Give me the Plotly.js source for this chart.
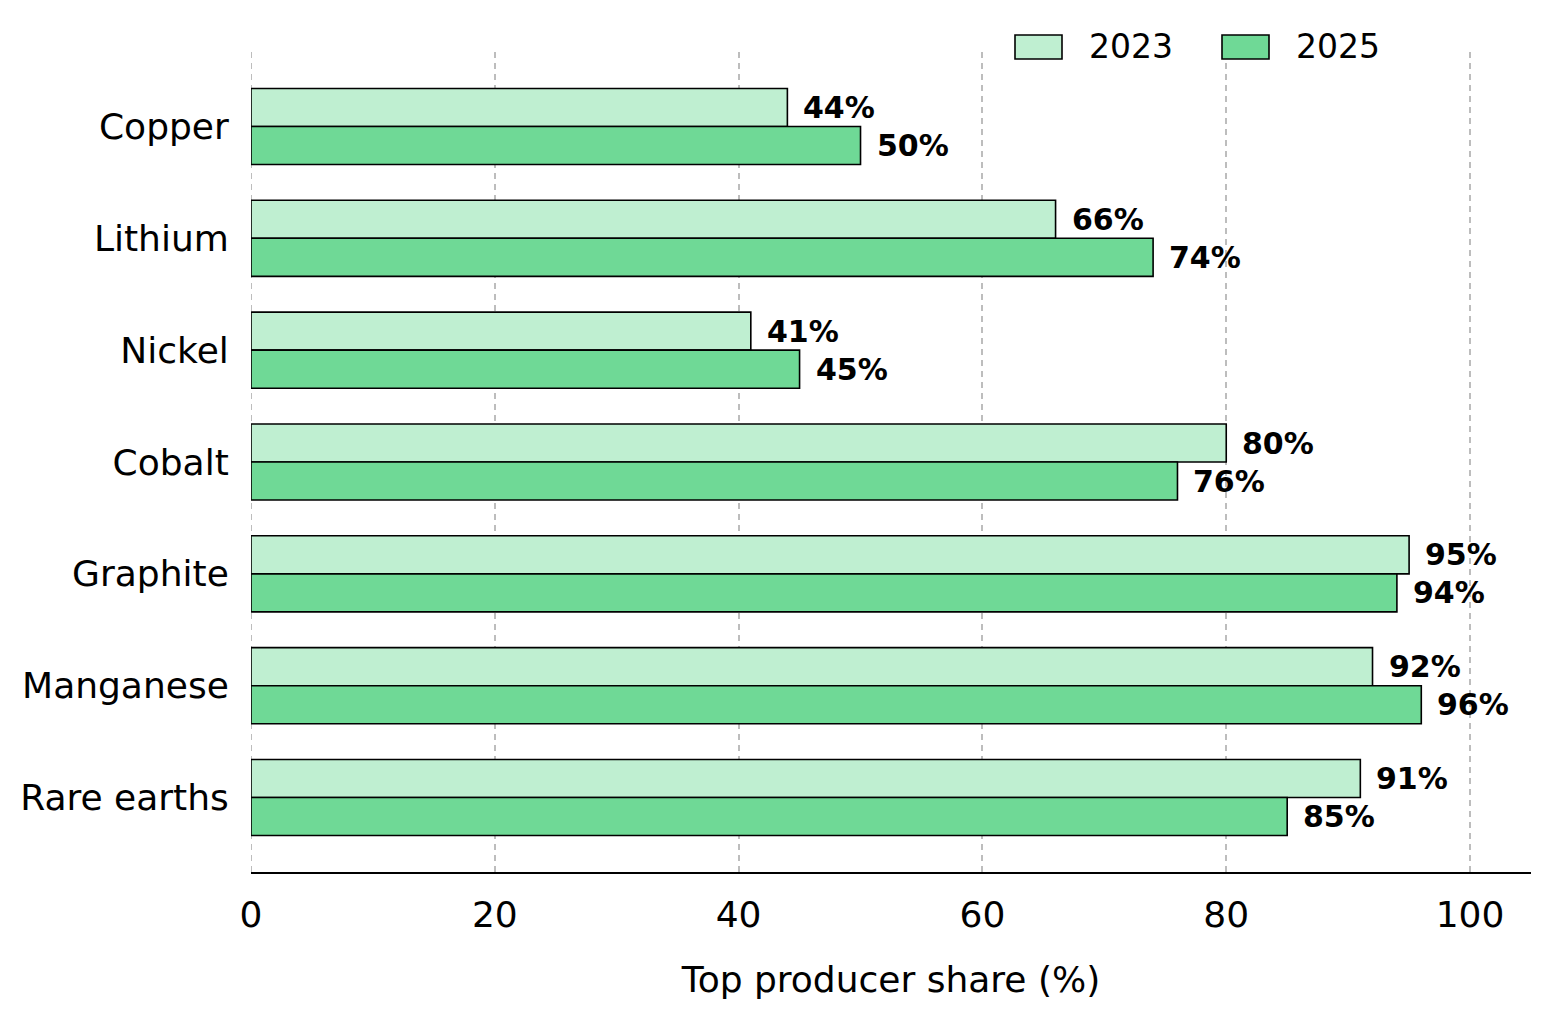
<!DOCTYPE html>
<html>
<head>
<meta charset="utf-8">
<script src="https://cdn.plot.ly/plotly-3.0.1.min.js"></script>
<style>
  html, body { margin: 0; padding: 0; background: #fff; }
  #chart { width: 1551px; height: 1017px; }
</style>
</head>
<body>
<div id="chart"></div>
<script>
// Top producer share by mineral — grouped horizontal bars, 2023 vs 2025.

const minerals = ["Copper", "Lithium", "Nickel", "Cobalt", "Graphite", "Manganese", "Rare earths"];
const years = ["2023", "2025"];
const share2023 = [44, 66, 41, 80, 95, 92, 91];
const share2025 = [50, 74, 45, 76, 94, 96, 85];

(function () {
  const W = 1551, H = 1017;
  const M = { l: 251, r: 20, t: 52, b: 145 };
  const FONT = "DejaVu Sans, Verdana, sans-serif";
  const colors = ["#bfefd1", "#6fd996"];
  const GRID = "#bdbdbd";
  const series = [share2023, share2025];

  const traces = series.map((vals, i) => ({
    type: "bar",
    orientation: "h",
    name: years[i],
    x: vals,
    y: minerals,
    marker: { color: colors[i], line: { color: "#000", width: 1.6 } },
    hoverinfo: "x+y",
    showlegend: false,
  }));

  // value labels beside each bar end
  const annotations = [];
  series.forEach((vals, i) => {
    vals.forEach((v, k) => {
      annotations.push({
        x: v, y: minerals[k], xref: "x", yref: "y",
        text: "<b>" + v + "%</b>", showarrow: false,
        xanchor: "left", yanchor: "middle",
        xshift: 14, yshift: i === 0 ? 19 : -19,
        font: { family: FONT, size: 30, color: "#000" },
      });
    });
  });

  // legend drawn by hand so the patches match the wide rectangles
  const pw = W - M.l - M.r, ph = H - M.t - M.b;
  const px = x => (x - M.l) / pw;
  const py = y => (H - M.b - y) / ph;
  const shapes = [
    // plotly drops the gridline on the plot edge, so draw the one at 0
    { type: "line", xref: "x", yref: "paper", x0: 0, x1: 0, y0: 0, y1: 1,
      layer: "below", line: { color: GRID, width: 2, dash: "6px,5px" } },
  ];
  const legX = [1015, 1222];
  years.forEach((yr, i) => {
    shapes.push({
      type: "rect", xref: "paper", yref: "paper",
      x0: px(legX[i]), x1: px(legX[i] + 47), y0: py(59), y1: py(35),
      fillcolor: colors[i], line: { color: "#000", width: 1.6 },
    });
    annotations.push({
      xref: "paper", yref: "paper", x: px(legX[i] + 72), y: py(47),
      xanchor: "left", yanchor: "middle", showarrow: false,
      text: yr, font: { family: FONT, size: 33, color: "#000" },
    });
  });

  const layout = {
    width: W, height: H,
    margin: M,
    paper_bgcolor: "#fff", plot_bgcolor: "#fff",
    font: { family: FONT, color: "#000", size: 36 },
    barmode: "group", bargap: 0.32, bargroupgap: 0,
    showlegend: false,
    xaxis: {
      range: [0, 105],
      tickvals: [0, 20, 40, 60, 80, 100],
      ticks: "outside", ticklen: 10, tickcolor: "rgba(0,0,0,0)",
      tickfont: { family: FONT, size: 36 },
      showline: true, linecolor: "#000", linewidth: 2,
      showgrid: true, gridcolor: GRID, gridwidth: 2, griddash: "6px,5px",
      zeroline: false,
      title: { text: "Top producer share (%)", font: { family: FONT, size: 36 }, standoff: 33 },
    },
    yaxis: {
      autorange: false, range: [6.666, -0.666],
      type: "category",
      ticks: "outside", ticklen: 14, tickcolor: "rgba(0,0,0,0)",
      tickfont: { family: FONT, size: 36 },
      showline: false, showgrid: false, zeroline: false,
    },
    annotations,
    shapes,
  };

  Plotly.newPlot("chart", traces, layout, { displayModeBar: false, staticPlot: true });
})();
</script>
</body>
</html>
